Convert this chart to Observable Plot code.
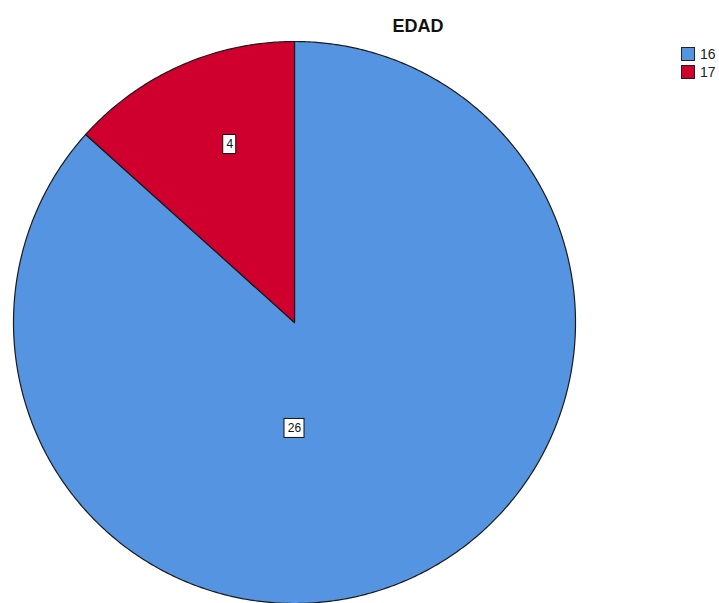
<!DOCTYPE html>
<html><head><meta charset="utf-8">
<script src="https://cdn.jsdelivr.net/npm/d3@7"></script>
<script src="https://cdn.jsdelivr.net/npm/@observablehq/plot@0.6"></script>
<style>
body{margin:0;background:#fff;font-family:Arial,"Liberation Sans",sans-serif}
#wrap{position:relative;width:719px;height:603px;overflow:hidden}
#title{position:absolute;left:318px;width:200px;top:16px;text-align:center;font-weight:bold;font-size:18px;color:#111}
#legend{position:absolute;left:681px;top:45px;font-size:14px;color:#222}
.item{display:flex;align-items:center;height:18px}
.sw{width:12px;height:12px;border:1px solid #222;margin-right:5px}
</style>
</head><body><div id="wrap"><div id="title"></div><div id="legend"></div></div>
<script>
const title = "EDAD";
const categories = ["16", "17"];
const values = [26, 4];
const colors = ["#5594e0", "#d0002e"];

// layout
const W = 719, H = 603, CX = 294, CY = 322, R = 281;
const labelPlacement = {"16": {angle: Math.PI, r: 0.377}, "17": {angle: -20 * Math.PI / 180, r: 0.674}};

const rows = categories.map((c, i) => ({category: c, value: values[i]}));
const arcs = d3.pie().sort(null).value(d => d.value)(rows);

const pts = [];
arcs.forEach(s => {
  const c = s.data.category;
  const n = Math.max(2, Math.ceil((s.endAngle - s.startAngle) / (Math.PI / 360)));
  pts.push({category: c, x: 0, y: 0});
  for (let i = 0; i <= n; i++) {
    const a = s.startAngle + (s.endAngle - s.startAngle) * i / n;
    pts.push({category: c, x: Math.sin(a), y: Math.cos(a)});
  }
  pts.push({category: c, x: 0, y: 0});
});

const labels = arcs.map(s => {
  const p = labelPlacement[s.data.category];
  const txt = String(s.data.value);
  const wpx = 6 + 7 * txt.length, hpx = 19;
  const x = Math.sin(p.angle) * p.r, y = Math.cos(p.angle) * p.r;
  return {text: txt, x, y, x1: x - wpx / 2 / R, x2: x + wpx / 2 / R, y1: y - hpx / 2 / R, y2: y + hpx / 2 / R};
});

const chart = Plot.plot({
  width: W, height: H, margin: 0,
  x: {domain: [-CX / R, (W - CX) / R], axis: null},
  y: {domain: [-(H - CY) / R, CY / R], axis: null},
  color: {domain: categories, range: colors},
  style: {background: "transparent", overflow: "hidden"},
  marks: [
    Plot.line(pts, {x: "x", y: "y", z: "category", fill: "category", stroke: "#1a1a1a", strokeWidth: 1.2, curve: "linear"}),
    Plot.rect(labels, {x1: "x1", x2: "x2", y1: "y1", y2: "y2", fill: "white", stroke: "#111", strokeWidth: 1}),
    Plot.text(labels, {x: "x", y: "y", text: "text", fontSize: 12, fill: "#111", fontFamily: "Arial, Liberation Sans, sans-serif"})
  ]
});
const wrap = document.getElementById("wrap");
wrap.insertBefore(chart, wrap.firstChild);
chart.style.position = "absolute"; chart.style.left = "0"; chart.style.top = "0";

document.getElementById("title").textContent = title;
const leg = document.getElementById("legend");
categories.forEach((c, i) => {
  const it = document.createElement("div"); it.className = "item";
  const sw = document.createElement("div"); sw.className = "sw"; sw.style.background = colors[i];
  const t = document.createElement("span"); t.textContent = c;
  it.appendChild(sw); it.appendChild(t); leg.appendChild(it);
});
</script>
</body></html>
